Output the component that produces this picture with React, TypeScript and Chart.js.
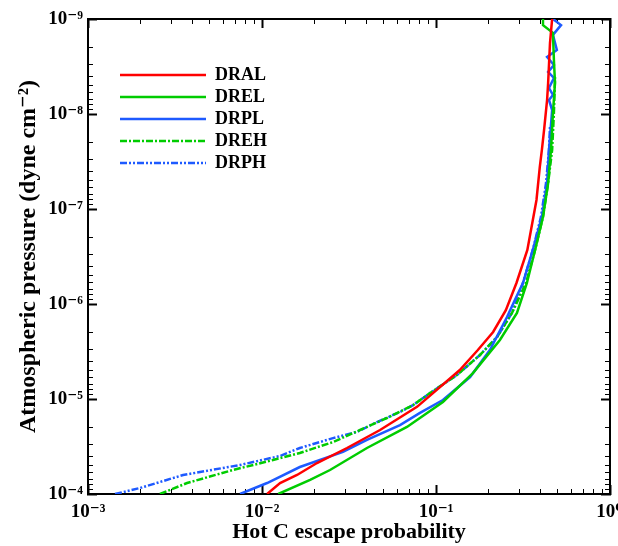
import React, { useEffect, useRef } from 'react';
import { Chart, registerables } from 'chart.js';

Chart.register(...registerables);

// ---------- data (probability vs. pressure) ----------
const seriesNames = ['DRAL', 'DREL', 'DRPL', 'DREH', 'DRPH'];

const dralProb = [0.0107, 0.0127, 0.0159, 0.0207, 0.0308, 0.0477, 0.0778, 0.137, 0.174, 0.213, 0.252, 0.29, 0.335, 0.378, 0.395, 0.406, 0.418, 0.435, 0.441, 0.452, 0.465];
const dralPres = [1e-4, 7.66e-5, 6.31e-5, 4.72e-5, 3.28e-5, 2.12e-5, 1.21e-5, 4.95e-6, 3.05e-6, 1.97e-6, 1.16e-6, 6.01e-7, 2.7e-7, 8.04e-8, 3.61e-8, 2.39e-8, 1.47e-8, 7.12e-9, 4.72e-9, 1.79e-9, 1e-9];

const drelProb = [0.0124, 0.0189, 0.0246, 0.0401, 0.0681, 0.1096, 0.163, 0.233, 0.292, 0.333, 0.371, 0.412, 0.441, 0.458, 0.470, 0.483, 0.476, 0.470, 0.412, 0.412];
const drelPres = [1e-4, 7.12e-5, 5.59e-5, 3.28e-5, 1.97e-5, 1.076e-5, 5.33e-6, 2.39e-6, 1.24e-6, 6.01e-7, 2.7e-7, 1.21e-7, 5.33e-8, 2.39e-8, 9.76e-9, 4.72e-9, 2.7e-9, 1.4e-9, 1.16e-9, 1e-9];

const drplProb = [0.00748, 0.0107, 0.0165, 0.0292, 0.0401, 0.0621, 0.0809, 0.1096, 0.157, 0.204, 0.256, 0.284, 0.316, 0.360, 0.406, 0.435, 0.446, 0.465, 0.446, 0.470, 0.446, 0.476, 0.441, 0.476, 0.435, 0.495, 0.470, 0.523, 0.470];
const drplPres = [1e-4, 7.66e-5, 5.2e-5, 3.61e-5, 2.7e-5, 1.88e-5, 1.4e-5, 1.025e-5, 5.87e-6, 3.05e-6, 1.37e-6, 9.08e-7, 6.01e-7, 2.7e-7, 1.21e-7, 5.33e-8, 2.39e-8, 9.08e-9, 7.12e-9, 6.31e-9, 5.33e-9, 4.18e-9, 3.61e-9, 3.05e-9, 2.51e-9, 2.12e-9, 1.47e-9, 1.16e-9, 1e-9];

const drehProb = [0.00259, 0.00371, 0.00681, 0.01156, 0.0165, 0.0256, 0.0366, 0.0522, 0.0738, 0.0925, 0.132, 0.179, 0.2245, 0.2735, 0.329, 0.371, 0.412, 0.441, 0.465, 0.476, 0.483];
const drehPres = [1e-4, 7.66e-5, 5.59e-5, 4.39e-5, 3.7e-5, 2.84e-5, 2.12e-5, 1.585e-5, 1.16e-5, 8.65e-6, 5.59e-6, 3.44e-6, 2.22e-6, 1.24e-6, 6.01e-7, 2.7e-7, 1.21e-7, 5.33e-8, 2.39e-8, 9.76e-9, 4.08e-9];

const drphProb = [0.00143, 0.00199, 0.00352, 0.00748, 0.0127, 0.0165, 0.0256, 0.0352, 0.0458, 0.0621, 0.0738, 0.0925, 0.132, 0.179, 0.2245, 0.2735, 0.316, 0.360, 0.401, 0.429, 0.446, 0.452];
const drphPres = [1e-4, 8.65e-5, 6.31e-5, 4.95e-5, 3.98e-5, 3.28e-5, 2.58e-5, 2.22e-5, 1.75e-5, 1.37e-5, 1.16e-5, 8.65e-6, 5.59e-6, 3.44e-6, 2.22e-6, 1.24e-6, 6.01e-7, 2.7e-7, 1.21e-7, 5.33e-8, 2.39e-8, 1.37e-8];

// ---------- axes ----------
const xDecades = [-3, -2, -1, 0];
const yDecades = [-9, -8, -7, -6, -5, -4];
const xTickLabels = ['10⁻³', '10⁻²', '10⁻¹', '10⁰'];
const yTickLabels = ['10⁻⁹', '10⁻⁸', '10⁻⁷', '10⁻⁶', '10⁻⁵', '10⁻⁴'];
const xTitle = 'Hot C escape probability';
const yTitle = 'Atmospheric pressure (dyne cm⁻²)';

const FONT = "'Liberation Serif', 'Times New Roman', 'DejaVu Serif', serif";

const majorVals = (decs: number[]) => decs.map((e) => Math.pow(10, e));
const minorVals = (decs: number[]) => {
  const out: number[] = [];
  for (let i = 0; i < decs.length - 1; i++) {
    for (let d = 2; d <= 9; d++) out.push(d * Math.pow(10, decs[i]));
  }
  return out;
};

const zip = (xs: number[], ys: number[]) => xs.map((x, i) => ({ x, y: ys[i] }));

type AxOpt = {
  position: string;
  min: number;
  max: number;
  reverse?: boolean;
  weight: number;
  len: number;
  tw: number;
  vals: number[];
  size: number;
  labels?: string[];
  pad?: number;
  title?: any;
};

const mkAxis = (o: AxOpt) => ({
  type: 'logarithmic',
  display: true,
  position: o.position,
  min: o.min,
  max: o.max,
  reverse: !!o.reverse,
  weight: o.weight,
  border: { display: true, color: '#000', width: 2 },
  grid: {
    display: true,
    drawOnChartArea: false,
    drawTicks: true,
    tickLength: -o.len,
    tickWidth: o.tw,
    tickColor: '#000',
  },
  ticks: {
    display: !!o.labels,
    autoSkip: false,
    maxRotation: 0,
    minRotation: 0,
    padding: o.pad ?? 0,
    color: '#000',
    font: { family: FONT, size: 19, weight: 'bold' },
    callback: (_v: any, i: number) => (o.labels ? o.labels[i] : ''),
  },
  title: o.title ?? { display: false },
  afterBuildTicks: (s: any) => {
    s.ticks = o.vals.map((v) => ({ value: v }));
  },
  afterFit: (s: any) => {
    if (o.position === 'top' || o.position === 'bottom') s.height = o.size;
    else s.width = o.size;
    s.paddingLeft = 0;
    s.paddingRight = 0;
    s.paddingTop = 0;
    s.paddingBottom = 0;
  },
});

const XMIN = 1e-3, XMAX = 1;
const YMIN = 1e-9, YMAX = 1e-4;

const RED = '#ff0000';
const GREEN = '#00cc00';
const BLUE = '#1e5aff';

const legendMover = {
  id: 'legendMover',
  afterLayout(chart: any) {
    const lg = chart.legend;
    if (!lg) return;
    const ca = chart.chartArea;
    lg.left = ca.left + 28;
    lg.top = ca.top + 43;
    lg.width = 220;
    lg.height = 160;
    lg.right = lg.left + lg.width;
    lg.bottom = lg.top + lg.height;
  },
};

export default function App() {
  const ref = useRef<HTMLCanvasElement>(null);
  useEffect(() => {
    document.body.style.margin = '0';
    const canvas = ref.current;
    if (!canvas) return;
    const ds = (label: string, xs: number[], ys: number[], color: string, dash: number[]) => ({
      label,
      data: zip(xs, ys),
      borderColor: color,
      backgroundColor: color,
      borderWidth: 2.5,
      borderDash: dash,
      pointRadius: 0,
      pointHoverRadius: 0,
      tension: 0,
      fill: false,
      xAxisID: 'x',
      yAxisID: 'y',
    });
    const chart = new Chart(canvas, {
      type: 'line',
      data: {
        datasets: [
          ds(seriesNames[0], dralProb, dralPres, RED, []),
          ds(seriesNames[1], drelProb, drelPres, GREEN, []),
          ds(seriesNames[2], drplProb, drplPres, BLUE, []),
          ds(seriesNames[3], drehProb, drehPres, GREEN, [7, 2, 2, 2]),
          ds(seriesNames[4], drphProb, drphPres, BLUE, [7, 2, 2, 2, 2, 2]),
        ] as any,
      },
      options: {
        responsive: false,
        animation: false,
        devicePixelRatio: 1,
        layout: { padding: { left: 0, right: 8, top: 19, bottom: 0 } },
        plugins: {
          tooltip: { enabled: false },
          legend: {
            display: true,
            position: 'chartArea',
            align: 'start',
            labels: {
              usePointStyle: true,
              pointStyle: 'line',
              pointStyleWidth: 86,
              padding: 4,
              color: '#000',
              font: { family: FONT, size: 18, weight: 'bold' },
              generateLabels: (chart: any) => {
                const items = Chart.defaults.plugins.legend.labels.generateLabels(chart);
                return items.map((it: any) => {
                  const d = chart.data.datasets[it.datasetIndex];
                  return {
                    ...it,
                    pointStyle: 'line',
                    lineDash: d.borderDash,
                    lineWidth: d.borderWidth,
                    strokeStyle: d.borderColor,
                    fillStyle: d.borderColor,
                    fontColor: '#000',
                  };
                });
              },
            },
          },
        },
        scales: {
          x: mkAxis({
            position: 'bottom', min: XMIN, max: XMAX, weight: 1, len: 9, tw: 2,
            vals: majorVals(xDecades), size: 52, labels: xTickLabels, pad: 16,
            title: { display: true, text: xTitle, color: '#000', font: { family: FONT, size: 22, weight: 'bold' }, padding: { top: 0, bottom: 0 } },
          }),
          xm: mkAxis({ position: 'bottom', min: XMIN, max: XMAX, weight: 0, len: 5, tw: 1, vals: minorVals(xDecades), size: 0 }),
          xt: mkAxis({ position: 'top', min: XMIN, max: XMAX, weight: 1, len: 9, tw: 2, vals: majorVals(xDecades), size: 0 }),
          xtm: mkAxis({ position: 'top', min: XMIN, max: XMAX, weight: 0, len: 5, tw: 1, vals: minorVals(xDecades), size: 0 }),
          y: mkAxis({
            position: 'left', min: YMIN, max: YMAX, reverse: true, weight: 1, len: 9, tw: 2,
            vals: majorVals(yDecades), size: 88, labels: yTickLabels, pad: 14,
            title: { display: true, text: yTitle, color: '#000', font: { family: FONT, size: 24, weight: 'bold' }, padding: { top: 14, bottom: 0 } },
          }),
          ym: mkAxis({ position: 'left', min: YMIN, max: YMAX, reverse: true, weight: 0, len: 5, tw: 1, vals: minorVals(yDecades), size: 0 }),
          yr: mkAxis({ position: 'right', min: YMIN, max: YMAX, reverse: true, weight: 1, len: 9, tw: 2, vals: majorVals(yDecades), size: 0 }),
          yrm: mkAxis({ position: 'right', min: YMIN, max: YMAX, reverse: true, weight: 0, len: 5, tw: 1, vals: minorVals(yDecades), size: 0 }),
        } as any,
      },
      plugins: [legendMover],
    } as any);
    return () => chart.destroy();
  }, []);
  return (
    <div style={{ width: 618, height: 546 }}>
      <canvas ref={ref} width={618} height={546} style={{ display: 'block' }} />
    </div>
  );
}
